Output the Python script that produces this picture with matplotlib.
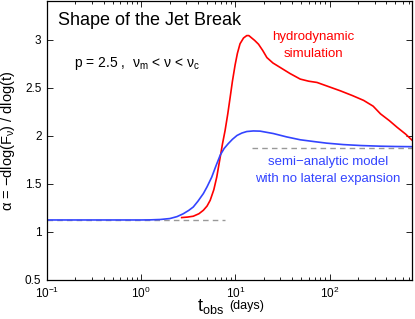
import matplotlib
matplotlib.use("Agg")
import matplotlib.pyplot as plt
from matplotlib.ticker import LogLocator, NullFormatter

plt.rcParams['font.family'] = ['Liberation Sans', 'DejaVu Sans']
plt.rcParams['mathtext.fontset'] = 'custom'
plt.rcParams['mathtext.rm'] = 'Liberation Sans'
plt.rcParams['mathtext.it'] = 'Liberation Sans'
plt.rcParams['mathtext.bf'] = 'Liberation Sans:bold'

# semi-analytic model (blue)
t_semi = [0.1, 0.5, 1.0, 1.24, 1.6, 2.02, 2.4, 2.8, 3.2, 3.57, 4.0, 4.57, 5.0,
          5.6, 6.2, 6.9, 7.6, 8.4, 9.3, 10.4, 11.7, 13.2, 15.5, 18.3, 25.3,
          35, 48.8, 70, 93, 140, 215, 350, 500, 771]
a_semi = [1.125, 1.125, 1.125, 1.126, 1.13, 1.14, 1.16, 1.19, 1.225, 1.26, 1.32,
          1.40, 1.47, 1.57, 1.685, 1.80, 1.87, 1.92, 1.965, 2.005, 2.03, 2.046,
          2.052, 2.05, 2.025, 1.99, 1.96, 1.94, 1.925, 1.91, 1.90, 1.893,
          1.89, 1.888]

# hydrodynamic simulation (red)
t_hydro = [2.69, 3.1, 3.57, 4.1, 4.57, 5.0, 5.4, 5.9, 6.34, 6.9, 7.3, 7.77,
           8.3, 8.79, 9.3, 9.93, 10.5, 11.2, 12.2, 13.2, 13.9, 14.9, 16.0,
           17.6, 19.5, 21.6, 25, 29.9, 38, 48.8, 60, 73.5, 100, 130, 175,
           230, 290, 347, 430, 521, 640, 771]
a_hydro = [1.15, 1.155, 1.164, 1.19, 1.226, 1.27, 1.33, 1.44, 1.572, 1.78, 1.92,
           2.056, 2.23, 2.40, 2.57, 2.74, 2.86, 2.96, 3.02, 3.045, 3.045, 3.02,
           2.995, 2.955, 2.89, 2.816, 2.76, 2.713, 2.65, 2.592, 2.57, 2.557,
           2.51, 2.47, 2.42, 2.37, 2.31, 2.23, 2.16, 2.09, 2.02, 1.945]

# asymptotic slopes (gray dashed)
t_pre = [0.1, 7.8]
a_pre = [1.125, 1.125]
t_post = [14.9, 771]
a_post = [1.875, 1.875]

fig = plt.figure(figsize=(4.15, 3.19), dpi=100)
ax = fig.add_axes([0.1133, 0.1223, 0.8795, 0.873])

ax.plot(t_pre, a_pre, color='#999999', lw=1.0, ls=(0, (4, 3)))
ax.plot(t_post, a_post, color='#999999', lw=1.0, ls=(0, (4, 3)))
ax.plot(t_hydro, a_hydro, color='#ff0000', lw=1.2)
ax.plot(t_semi, a_semi, color='#3344ff', lw=1.2)

ax.set_xscale('log')
ax.set_xlim(0.1, 750)
ax.set_ylim(0.5, 3.4)
ax.set_yticks([0.5, 1, 1.5, 2, 2.5, 3])
ax.set_yticklabels(['0.5', '1', '1.5', '2', '2.5', '3'])
ax.xaxis.set_major_locator(LogLocator(base=10, numticks=10))
ax.xaxis.set_minor_locator(LogLocator(base=10, subs=range(2, 10), numticks=50))
ax.xaxis.set_minor_formatter(NullFormatter())
ax.tick_params(which='both', direction='in', top=True, right=True, labelsize=8.5,
               width=0.6)
ax.tick_params(which='major', length=4)
ax.tick_params(which='minor', length=2)
ax.tick_params(axis='x', pad=4.5)
ax.tick_params(axis='y', pad=4)
for s in ax.spines.values():
    s.set_linewidth(0.9)

ax.set_ylabel('α = −dlog(F$_{\\nu}$) / dlog(t)', fontsize=10.5, labelpad=6)

fig.text(0.474, 0.024, 't$_{\\mathrm{obs}}$', fontsize=13, ha='left', va='baseline')
fig.text(0.553, 0.031, '(days)', fontsize=9, ha='left', va='baseline')

ax.text(0.03, 0.932, 'Shape of the Jet Break', transform=ax.transAxes,
        fontsize=13, va='center', ha='left')
ax.text(0.073, 0.778, 'p = 2.5 ,  $\\nu_{\\mathrm{m}}$ < $\\nu$ < $\\nu_{\\mathrm{c}}$',
        transform=ax.transAxes, fontsize=10, va='center', ha='left')
ax.text(0.73, 0.842, 'hydrodynamic\nsimulation', transform=ax.transAxes,
        fontsize=9.5, color='#ff0000', ha='center', va='center',
        linespacing=1.6)
ax.text(0.77, 0.393, 'semi−analytic model\nwith no lateral expansion',
        transform=ax.transAxes, fontsize=9.5, color='#3344ff', ha='center',
        va='center', linespacing=1.6)

fig.savefig('out.png', dpi=100)
